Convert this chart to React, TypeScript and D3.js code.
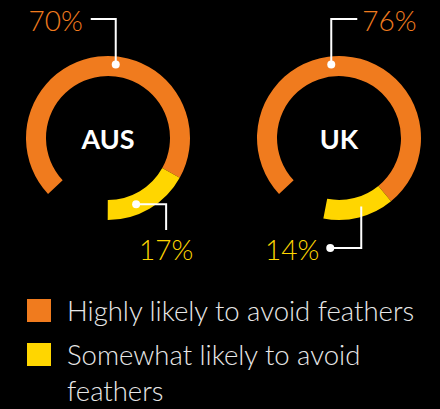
import { useEffect, useRef } from 'react';
import * as d3 from 'd3';

const COUNTRIES = ['AUS', 'UK'];
const HIGHLY = [70, 76];
const SOMEWHAT = [17, 14];
const LEGEND = ['Highly likely to avoid feathers', 'Somewhat likely to avoid feathers'];

const ORANGE = '#f07b1e';
const YELLOW = '#ffd600';
const FONT = '"Lato Light", Lato, "Open Sans", sans-serif';
const BOLD_FONT = 'Lato, "Open Sans", sans-serif';

export default function App() {
  const svgRef = useRef<SVGSVGElement>(null);

  useEffect(() => {
    if (!svgRef.current) return;
    document.body.style.margin = '0';
    document.body.style.background = '#000';

    const width = 440;
    const height = 409;
    const svg = d3.select(svgRef.current);
    svg.selectAll('*').remove();

    svg.append('rect').attr('width', width).attr('height', height).attr('fill', '#000');

    const cx = d3.scalePoint<string>().domain(COUNTRIES).range([108, 339]);
    const cy = 138;
    const outerR = 82;
    const innerR = 62;
    const midR = (outerR + innerR) / 2;

    // rings start in the lower left and run clockwise
    const start = (-133 * Math.PI) / 180;
    const angle = d3.scaleLinear().domain([0, 100]).range([start, start + 2 * Math.PI]);
    const arc = d3.arc<{ a0: number; a1: number }>()
      .innerRadius(innerR).outerRadius(outerR)
      .startAngle(d => d.a0).endAngle(d => d.a1);

    // leader layout per ring: orange dot angle, yellow dot angle
    const leaders = [
      { orangeDot: 6, yellowDot: 157 },
      { orangeDot: -6, yellowDot: 162 },
    ];

    const polar = (x0: number, deg: number, r: number): [number, number] => {
      const a = (deg * Math.PI) / 180;
      return [x0 + r * Math.sin(a), cy - r * Math.cos(a)];
    };

    COUNTRIES.forEach((c, i) => {
      const x0 = cx(c)!;
      const g = svg.append('g').attr('transform', `translate(${x0},${cy})`);
      const segs = [
        { a0: angle(0), a1: angle(HIGHLY[i]), color: ORANGE },
        { a0: angle(HIGHLY[i]), a1: angle(HIGHLY[i] + SOMEWHAT[i]), color: YELLOW },
      ];
      g.selectAll('path').data(segs).join('path')
        .attr('d', d => arc(d))
        .attr('fill', d => d.color);

      g.append('text')
        .attr('text-anchor', 'middle')
        .attr('y', 11)
        .attr('fill', '#fff')
        .attr('font-family', BOLD_FONT)
        .attr('font-weight', 700)
        .attr('font-size', 27)
        .text(c);

      const lead = svg.append('g')
        .attr('fill', 'none').attr('stroke', '#fff').attr('stroke-width', 2);
      const [ox, oy] = polar(x0, leaders[i].orangeDot, midR + 2);
      const [yx, yy] = polar(x0, leaders[i].yellowDot, midR);
      const topY = 19;

      if (i === 0) {
        lead.append('path').attr('d', `M${ox},${oy}V${topY}H${ox - 25}`);
        lead.append('path').attr('d', `M${yx},${yy}H${yx + 30}V230`);
        svg.append('circle').attr('cx', ox).attr('cy', oy).attr('r', 4).attr('fill', '#fff');
        svg.append('circle').attr('cx', yx).attr('cy', yy).attr('r', 4).attr('fill', '#fff');
        svg.append('text').attr('x', ox - 33).attr('y', 31).attr('text-anchor', 'end')
          .attr('fill', ORANGE).attr('font-family', FONT).attr('font-weight', 300)
          .attr('font-size', 28).text(`${HIGHLY[i]}%`);
        svg.append('text').attr('x', yx + 30).attr('y', 260).attr('text-anchor', 'middle')
          .attr('fill', YELLOW).attr('font-family', FONT).attr('font-weight', 300)
          .attr('font-size', 28).text(`${SOMEWHAT[i]}%`);
      } else {
        lead.append('path').attr('d', `M${ox},${oy}V${topY}H${ox + 26}`);
        lead.append('path').attr('d', `M${yx},${yy}V248H${yx - 31}`);
        svg.append('circle').attr('cx', ox).attr('cy', oy).attr('r', 4).attr('fill', '#fff');
        svg.append('circle').attr('cx', yx - 31).attr('cy', 248).attr('r', 4).attr('fill', '#fff');
        svg.append('text').attr('x', ox + 31).attr('y', 31).attr('text-anchor', 'start')
          .attr('fill', ORANGE).attr('font-family', FONT).attr('font-weight', 300)
          .attr('font-size', 28).text(`${HIGHLY[i]}%`);
        svg.append('text').attr('x', yx - 42).attr('y', 260).attr('text-anchor', 'end')
          .attr('fill', YELLOW).attr('font-family', FONT).attr('font-weight', 300)
          .attr('font-size', 28).text(`${SOMEWHAT[i]}%`);
      }
    });

    // legend
    const legendColors = [ORANGE, YELLOW];
    const legendLines = [[LEGEND[0]], ['Somewhat likely to avoid', 'feathers']];
    const rowY = [299, 343];
    legendLines.forEach((lines, i) => {
      svg.append('rect')
        .attr('x', 27).attr('y', rowY[i]).attr('width', 24).attr('height', 23)
        .attr('fill', legendColors[i]);
      const t = svg.append('text')
        .attr('x', 67).attr('y', rowY[i] + 22)
        .attr('fill', '#e8e8e8').attr('font-family', FONT)
        .attr('font-weight', 300).attr('font-size', 27.5);
      lines.forEach((line, j) => {
        t.append('tspan').attr('x', 67).attr('dy', j === 0 ? 0 : 36).text(line);
      });
    });
  }, []);

  return (
    <svg
      ref={svgRef}
      width={440}
      height={409}
      style={{ position: 'fixed', left: 0, top: 0, display: 'block' }}
    />
  );
}
